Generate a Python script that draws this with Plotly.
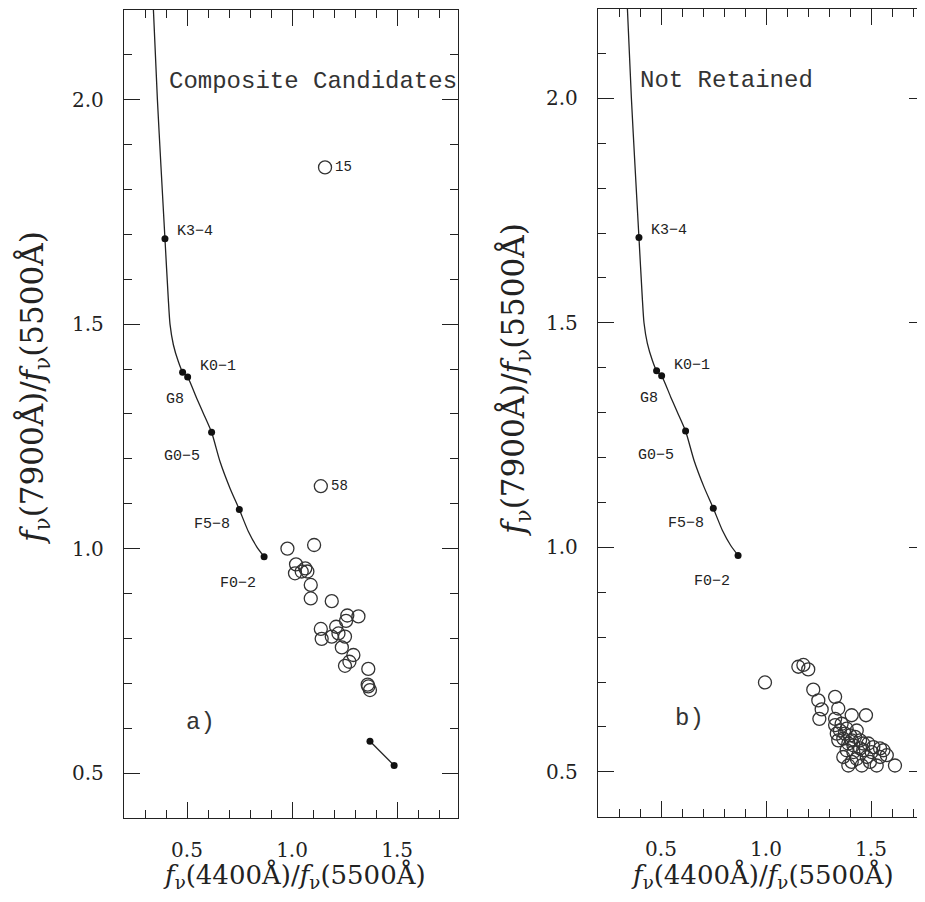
import plotly.graph_objects as go

# ---- data ----
track_x = [0.340, 0.359, 0.376, 0.395, 0.411, 0.419, 0.435, 0.459, 0.479, 0.503,
           0.546, 0.578, 0.617, 0.657, 0.705, 0.749, 0.792, 0.832, 0.867]
track_y = [2.20, 2.00, 1.851, 1.690, 1.555, 1.500, 1.454, 1.416, 1.393, 1.382,
           1.335, 1.301, 1.259, 1.194, 1.134, 1.087, 1.038, 1.004, 0.982]

sptype_names = ["K3−4", "K0−1", "G8", "G0−5", "F5−8", "F0−2"]
sptype_x = [0.395, 0.479, 0.503, 0.617, 0.749, 0.867]
sptype_y = [1.690, 1.393, 1.382, 1.259, 1.087, 0.982]
sptype_label_x = [0.538, 0.649, 0.443, 0.475, 0.618, 0.744]
sptype_label_y = [1.706, 1.405, 1.331, 1.205, 1.054, 0.923]

seg_x = [1.371, 1.486]
seg_y = [0.571, 0.517]

comp_x = [0.978, 1.105, 1.019, 1.014, 1.046, 1.073, 1.063, 1.089, 1.089, 1.189,
          1.263, 1.316, 1.257, 1.137, 1.210, 1.221, 1.252, 1.141, 1.189, 1.237,
          1.292, 1.273, 1.252, 1.363, 1.363, 1.371, 1.360, 1.157, 1.137]
comp_y = [1.000, 1.008, 0.965, 0.945, 0.949, 0.949, 0.956, 0.919, 0.889, 0.883,
          0.851, 0.849, 0.839, 0.821, 0.826, 0.811, 0.804, 0.799, 0.804, 0.780,
          0.763, 0.748, 0.739, 0.732, 0.693, 0.685, 0.697, 1.849, 1.139]
named_ids = ["15", "58"]
named_x = [1.157, 1.137]
named_y = [1.849, 1.139]

notret_x = [0.995, 1.154, 1.178, 1.201, 1.225, 1.249, 1.329, 1.265, 1.254, 1.344,
            1.408, 1.476, 1.329, 1.352, 1.384, 1.400, 1.424, 1.448, 1.368, 1.337,
            1.432, 1.463, 1.487, 1.511, 1.543, 1.448, 1.329, 1.360, 1.344, 1.392,
            1.416, 1.368, 1.408, 1.456, 1.495, 1.527, 1.575, 1.614, 1.543, 1.480,
            1.432, 1.384, 1.416, 1.463, 1.503, 1.559, 1.392, 1.376, 1.408]
notret_y = [0.699, 0.734, 0.738, 0.728, 0.683, 0.659, 0.667, 0.639, 0.618, 0.641,
            0.626, 0.626, 0.618, 0.592, 0.596, 0.581, 0.578, 0.570, 0.574, 0.585,
            0.592, 0.563, 0.563, 0.555, 0.552, 0.552, 0.604, 0.607, 0.570, 0.563,
            0.559, 0.533, 0.522, 0.514, 0.522, 0.514, 0.537, 0.514, 0.533, 0.533,
            0.529, 0.548, 0.544, 0.548, 0.544, 0.548, 0.514, 0.585, 0.570]

x_ticks = [0.5, 1.0, 1.5]
x_ticktext = ["0.5", "1.0", "1.5"]
y_ticks = [0.5, 1.0, 1.5, 2.0]
y_ticktext = ["0.5", "1.0", "1.5", "2.0"]

# page has an 8px body margin: figure sized so it ends at the window edge
OFF = 8
W, H = 925 - OFF, 902 - OFF
INK = "#222222"
SERIF = "DejaVu Serif"
MONO = "Liberation Mono"


def px(sx):
    return (sx - OFF) / W


def py(sy):
    return 1 - (sy - OFF) / H


fig = go.Figure()


def add_panel(xa, ya, circ_x, circ_y, with_seg):
    xref = "x" if xa == 1 else "x%d" % xa
    yref = "y" if ya == 1 else "y%d" % ya
    fig.add_trace(go.Scatter(x=track_x, y=track_y, mode="lines",
                             line=dict(color=INK, width=1.3, shape="spline", smoothing=0.6),
                             xaxis=xref, yaxis=yref, hoverinfo="skip", showlegend=False))
    fig.add_trace(go.Scatter(x=sptype_x, y=sptype_y, mode="markers",
                             marker=dict(color="#111111", size=7, symbol="circle"),
                             xaxis=xref, yaxis=yref, showlegend=False))
    if with_seg:
        fig.add_trace(go.Scatter(x=seg_x, y=seg_y, mode="lines+markers",
                                 line=dict(color=INK, width=1.3),
                                 marker=dict(color="#111111", size=7),
                                 xaxis=xref, yaxis=yref, showlegend=False))
    fig.add_trace(go.Scatter(x=circ_x, y=circ_y, mode="markers",
                             marker=dict(symbol="circle-open", size=13, color="#333333",
                                         line=dict(width=1.3, color="#333333")),
                             xaxis=xref, yaxis=yref, showlegend=False))
    for name, lx, ly in zip(sptype_names, sptype_label_x, sptype_label_y):
        fig.add_annotation(x=lx, y=ly, xref=xref, yref=yref, text=name, showarrow=False,
                           xanchor="center", yanchor="middle",
                           font=dict(family=MONO, size=15, color=INK))


add_panel(1, 1, comp_x, comp_y, True)
add_panel(2, 2, notret_x, notret_y, False)

for nid, nx, ny in zip(named_ids, named_x, named_y):
    fig.add_annotation(x=nx + 0.04, y=ny, xref="x", yref="y", text=nid, showarrow=False,
                       xanchor="left", yanchor="middle",
                       font=dict(family=MONO, size=14, color=INK))

fig.add_annotation(x=0.405, y=2.040, xref="x", yref="y", text="Composite Candidates",
                   showarrow=False, xanchor="left", yanchor="middle",
                   font=dict(family=MONO, size=24, color="#333333"))
fig.add_annotation(x=0.392, y=2.040, xref="x2", yref="y2", text="Not Retained",
                   showarrow=False, xanchor="left", yanchor="middle",
                   font=dict(family=MONO, size=24, color="#333333"))
fig.add_annotation(x=0.562, y=0.613, xref="x", yref="y", text="a)", showarrow=False,
                   xanchor="center", yanchor="middle",
                   font=dict(family=MONO, size=24, color="#333333"))
fig.add_annotation(x=0.638, y=0.619, xref="x2", yref="y2", text="b)", showarrow=False,
                   xanchor="center", yanchor="middle",
                   font=dict(family=MONO, size=24, color="#333333"))

xtitle = "<i>f</i><sub>ν</sub>(4400Å)/<i>f</i><sub>ν</sub>(5500Å)"
ytitle = "<i>f</i><sub>ν</sub>(7900Å)/<i>f</i><sub>ν</sub>(5500Å)"
xtfont = dict(family=SERIF, size=26, color=INK)
ytfont = dict(family=SERIF, size=31, color=INK)
for cx in (294, 762):
    fig.add_annotation(x=px(cx), y=py(876), xref="paper", yref="paper", text=xtitle,
                       showarrow=False, xanchor="center", yanchor="middle", font=xtfont)
for cx, cy in ((34, 388), (515, 380)):
    fig.add_annotation(x=px(cx), y=py(cy), xref="paper", yref="paper", text=ytitle,
                       showarrow=False, textangle=-90, xanchor="center", yanchor="middle",
                       font=ytfont)

common = dict(ticks="inside", ticklen=16, tickwidth=1.3, tickcolor=INK,
              minor=dict(dtick=0.1, ticks="inside", ticklen=8, tickwidth=1.2, tickcolor=INK),
              showline=True, linecolor=INK, linewidth=1.4, mirror="allticks",
              showgrid=False, zeroline=False,
              tickfont=dict(family=SERIF, size=20, color=INK))
common_x = dict(tickmode="array", tickvals=x_ticks, ticktext=x_ticktext,
                ticklabelstandoff=14, **common)
common_y = dict(tickmode="array", tickvals=y_ticks, ticktext=y_ticktext,
                ticklabelstandoff=15, **common)

fig.update_layout(
    width=W, height=H,
    margin=dict(l=0, r=0, t=0, b=0),
    paper_bgcolor="white", plot_bgcolor="white",
    showlegend=False,
    xaxis=dict(domain=[px(124), px(458)], range=[0.2, 1.790], anchor="y", **common_x),
    yaxis=dict(domain=[py(818), py(9.8)], range=[0.4, 2.2], anchor="x", **common_y),
    xaxis2=dict(domain=[px(598), 1.0], range=[0.2, 1.757], anchor="y2", **common_x),
    yaxis2=dict(domain=[py(816.7), py(8.5)], range=[0.4, 2.2], anchor="x2", **common_y),
)

fig.write_html("out.html")
